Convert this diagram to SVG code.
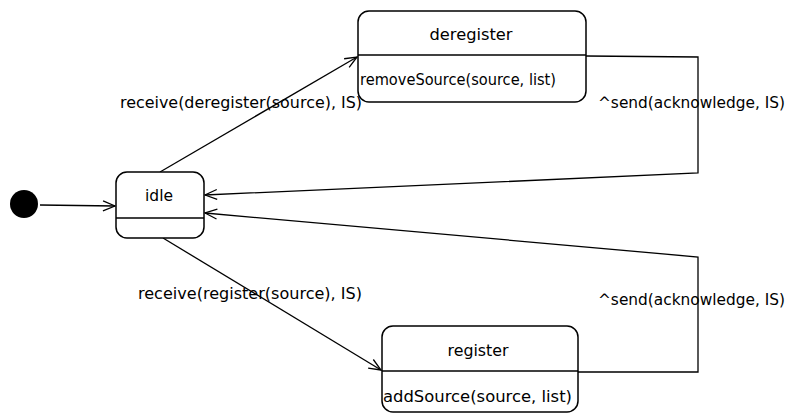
<svg xmlns="http://www.w3.org/2000/svg" width="791" height="415" viewBox="0 0 791 415">
<defs>
<marker id="arr" viewBox="0 0 14 12" refX="13" refY="6" markerWidth="14" markerHeight="12" markerUnits="userSpaceOnUse" orient="auto">
<polyline points="1,1 13,6 1,11" fill="none" stroke="#000" stroke-width="1.3"/>
</marker>
<style>
.box{fill:#fff;stroke:#000;stroke-width:1.5}
.ln{fill:none;stroke:#000;stroke-width:1.3}
.t{font-family:"DejaVu Sans","Liberation Sans",sans-serif;font-size:15.5px;fill:#000}
.c{text-anchor:middle}
</style>
</defs>
<g id="connectors">
<line class="ln" x1="40" y1="205" x2="115" y2="206" marker-end="url(#arr)"/>
<line class="ln" x1="160" y1="172" x2="357" y2="57" marker-end="url(#arr)"/>
<line class="ln" x1="163" y1="238" x2="381" y2="370" marker-end="url(#arr)"/>
<polyline class="ln" points="586,56 698,57 698,173 205,195" marker-end="url(#arr)"/>
<polyline class="ln" points="578,372 698,372 698,257 205,213" marker-end="url(#arr)"/>
<text class="t" x="120" y="108" textLength="242" lengthAdjust="spacingAndGlyphs">receive(deregister(source), IS)</text>
<text class="t" x="138" y="299" textLength="224" lengthAdjust="spacingAndGlyphs">receive(register(source), IS)</text>
<text class="t" x="598" y="108" textLength="187" lengthAdjust="spacingAndGlyphs">^send(acknowledge, IS)</text>
<text class="t" x="598" y="305" textLength="187" lengthAdjust="spacingAndGlyphs">^send(acknowledge, IS)</text>
</g>
<g id="initial">
<circle cx="24" cy="204" r="14" fill="#000"/>
</g>
<g id="idle">
<rect class="box" x="116" y="172" width="88" height="66" rx="11"/>
<line class="ln" x1="116" y1="218" x2="204" y2="218"/>
<text class="t c" x="159" y="201">idle</text>
</g>
<g id="deregister">
<rect class="box" x="358" y="11" width="228" height="91" rx="11"/>
<line class="ln" x1="358" y1="55" x2="586" y2="55"/>
<text class="t c" x="471" y="40" textLength="83" lengthAdjust="spacingAndGlyphs">deregister</text>
<text class="t" x="360" y="85" textLength="196" lengthAdjust="spacingAndGlyphs">removeSource(source, list)</text>
</g>
<g id="register">
<rect class="box" x="382" y="326" width="196" height="86" rx="11"/>
<line class="ln" x1="382" y1="371" x2="578" y2="371"/>
<text class="t c" x="478" y="356" textLength="61" lengthAdjust="spacingAndGlyphs">register</text>
<text class="t" x="383" y="402" textLength="189" lengthAdjust="spacingAndGlyphs">addSource(source, list)</text>
</g>
</svg>
